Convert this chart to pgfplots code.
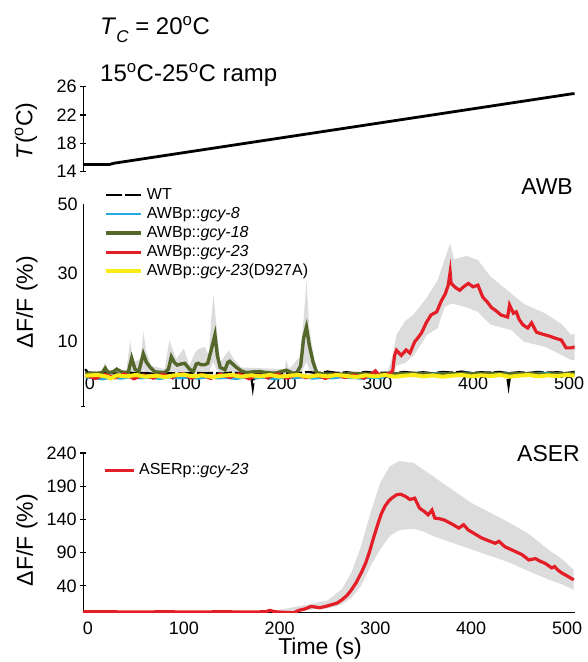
\documentclass[border=0pt]{standalone}
\usepackage{pgfplots}
\pgfplotsset{compat=1.18}
\usepackage{fontspec}
\setmainfont{Liberation Sans}
\definecolor{cred}{RGB}{228,30,38}
\definecolor{cgreen}{RGB}{84,104,44}
\definecolor{cblue}{RGB}{38,169,224}
\definecolor{cyellow}{RGB}{250,235,20}
\definecolor{cband}{RGB}{220,220,220}
\pgfplotsset{
  every non boxed x axis/.append style={x axis line style={-}},
  every non boxed y axis/.append style={y axis line style={-}},
  base/.style={
    scale only axis, width=491.5pt, xmin=-5, xmax=508,
    anchor=south west,
    /pgf/number format/assume math mode=true,
    ticklabel style={font=\fontsize{18}{20}\selectfont},
    axis line style={-, line width=1.2pt},
    every tick/.style={black, line width=1.2pt},
    tick align=outside,
    legend image code/.code={\draw[##1] (0pt,0pt) -- (35pt,0pt);},
  },
  noarrows/.style={
    every outer x axis line/.append style={-},
    every outer y axis line/.append style={-},
    every inner x axis line/.append style={-},
    every inner y axis line/.append style={-},
  },
}
\begin{document}
\begin{tikzpicture}
\path[use as bounding box] (0,0) rectangle (587pt,662pt);
% ---------- top: temperature ----------
\begin{axis}[base, at={(83.2pt,490.4pt)}, height=85pt,
  ymin=14, ymax=26, ytick={14,18,22,26},
  axis x line=none, axis y line=left,
  major tick length=6pt, xtick=\empty, noarrows]
\addplot[black, line width=2.8pt] coordinates {(-4,15) (22,15) (28,15.2) (506,25) (508,25)};
\end{axis}
% ---------- middle: AWB ----------
\begin{axis}[base, at={(83.2pt,255.1pt)}, height=202.4pt,
  ymin=-9, ymax=50, ytick={10,30,50},
  axis x line=bottom, axis y line=left,
  x axis line style={draw=none}, xtick style={draw=none},
  major tick length=0pt,
  extra y ticks={-9}, extra y tick labels={}, extra y tick style={major tick length=4pt},
  xtick={0,100,200,300,400,500},
  xticklabel style={anchor=center, yshift=24pt, xshift=2pt},
  yticklabel style={xshift=-2pt},
  legend style={draw=none, fill=none, at={(rel axis cs:0,1)}, anchor=north west,
    xshift=20.5pt, yshift=18.5pt, inner sep=0pt, row sep=1pt,
    font=\fontsize{16}{18}\selectfont,
    nodes={inner sep=1pt, text height=12pt, text depth=4pt},
    column sep=3pt},
  legend cell align=left, noarrows]
% bands
\addplot[fill=cband, draw=none, forget plot] coordinates {
(-3,1.5)(15,1.5)(18,4)(21,1.5)(40,1.5)(44,10.5)(47,4)(55,5)(57.7,13)(61,7)(66,3)(80,2)(85,10.5)(88,8)(92,5)(100,8)(106,3)(112,7)(115,7.8)(122,8.5)(126,6)(129,18)(131,23.6)(134,15)(138,4)(147,7.5)(152,5)(160,2.5)(205,2)(207,4.7)(210,2)(222,6)(226,20)(228,28)(231,14)(236,5)(240,1.5)
(240,0)(236,0.5)(231,2)(228,4)(226,3)(222,0.5)(210,0)(207,0)(205,0)(160,0)(152,1)(147,1)(138,0.5)(134,2)(131,4)(129,3)(126,1)(122,1)(115,1)(112,1)(106,0)(100,1)(92,1)(88,1.5)(85,1.5)(80,0)(66,0)(61,1)(57.7,2)(55,0.5)(47,0.5)(44,1)(40,0)(21,0)(18,0.5)(15,0)(-3,0)} -- cycle;
\addplot[fill=cband, draw=none, forget plot] coordinates {
(313,1.5)(318,6)(322,12)(331,16)(340,18)(354,23)(365,28)(372,33.8)(378,38.7)(382,34)(395,35)(407,33.8)(420,29)(442,24)(455,21)(477,18.3)(495,15)(504,12)(509,12.5)
(509,4.5)(504,4.7)(495,6)(477,8.5)(455,10)(442,13.4)(420,15)(407,18.7)(395,20)(382,21)(378,21)(372,20)(365,14)(354,12)(340,6)(331,3.8)(322,3)(318,0)(313,-0.5)} -- cycle;
% WT
\addplot[black, line width=2.2pt, dash pattern=on 16pt off 3pt] coordinates {
(-3,2)(0,1)(10,0.8)(20,1.0)(30,0.7)(40,1.1)(50,0.8)(60,0.9)(70,0.6)(80,1.0)(90,0.8)(100,0.7)(110,1.0)(120,0.8)(130,0.9)(140,0.7)(150,1.0)(160,0.8)(170,0.6)(172,-3.5)(174,0.6)(180,0.9)(190,0.8)(200,1.0)(210,0.7)(220,0.9)(230,1.2)(240,0.8)(250,1.3)(260,0.9)(270,1.1)(280,0.8)(290,1.2)(300,0.9)(310,1.0)(320,0.8)(330,1.2)(340,0.9)(350,1.1)(360,0.8)(370,1.2)(380,1.0)(390,1.3)(400,0.9)(410,1.1)(420,1.0)(430,1.2)(437,0.9)(439,-3)(441,0.9)(450,1.1)(460,0.9)(470,1.2)(480,1.0)(490,1.1)(500,0.9)(508,1.2)};
\addlegendentry{WT}
% gcy-8
\addplot[cblue, line width=2.6pt] coordinates {
(-3,-0.3)(8,-0.6)(15,-0.9)(25,-0.4)(35,-0.7)(45,-0.2)(55,-0.6)(65,-0.4)(75,-0.8)(85,-0.3)(95,-0.6)(105,-0.4)(115,-0.7)(125,-0.3)(135,-0.6)(145,-0.5)(155,-0.8)(165,-0.3)(175,-0.6)(185,-0.4)(195,-0.9)(205,-0.4)(215,-0.6)(225,-0.3)(235,-0.7)(245,-0.4)(255,-0.6)(265,-0.3)(275,-0.5)(285,-0.7)(295,-0.4)(305,-0.6)(315,0.6)(325,0.8)(335,0.5)(345,0.9)(355,0.6)(365,0.8)(375,0.5)(385,0.7)(395,0.9)(405,0.6)(415,0.8)(425,0.5)(435,0.9)(445,0.6)(455,0.8)(465,0.7)(475,0.9)(485,0.6)(495,0.8)(508,0.7)};
\addlegendentry{AWBp::\textit{gcy-8}}
% gcy-18
\addplot[cgreen, line width=3.4pt] coordinates {
(-3,0.8)(10,0.8)(15,1)(18,2.3)(21,1)(26,1.2)(30,2)(35,1.2)(42,1)(45.6,5.2)(49,2)(53,1.2)(57.7,6.5)(61,4)(65,2.5)(70,1.2)(80,1)(84,2)(87,5.6)(90,4)(93,3.2)(97,3.5)(101,3.7)(106,2)(110,1.3)(113,3.5)(115,3.7)(118,3.3)(122,3.3)(125,3.7)(129,8)(132.5,12)(135,6)(138,2.5)(143,1.8)(146,4)(148,4.3)(151,3.5)(155,2.5)(160,1.5)(165,1)(172,1.2)(179,1.3)(186,1)(195,0.8)(202,1.3)(207,1.7)(211,1.2)(214,0.8)(218,1)(222,3)(225,11)(228,14.3)(231,9)(235,4)(238.7,1)(245,0.6)(260,0.5)(280,0.7)(300,0.5)(320,0.6)(340,0.8)(360,0.5)(380,0.7)(400,0.6)(420,0.8)(440,0.6)(460,0.7)(480,0.5)(500,0.7)(508,0.6)};
\addlegendentry{AWBp::\textit{gcy-18}}
% gcy-23
\addplot[cred, line width=3.2pt] coordinates {
(-3,0.2)(8,-0.7)(18,0.4)(28,-0.5)(38,0.6)(48,-0.8)(58,0.3)(68,-0.6)(78,0.5)(88,-0.4)(98,0.7)(108,-0.6)(118,0.4)(128,-0.7)(138,0.5)(148,-0.4)(158,0.6)(168,-0.8)(178,0.3)(188,-0.5)(198,0.6)(208,-0.6)(218,0.4)(228,-0.5)(238,0.3)(248,-0.7)(258,0.5)(268,-0.4)(278,0.3)(288,-0.6)(296,0.5)(300,1.5)(304,0.2)(310,0.3)(315,0.8)(318,1.5)(320,6)(322,7.5)(327,6)(332,7.6)(336,6.7)(341,10)(344,11)(348,12.5)(353,15.5)(358,17.8)(364,18.7)(369,22)(373,24)(376,26.5)(378,30.3)(379,27)(384,25.7)(388,25)(392,26)(397,27)(402,26)(407,26.5)(412,23)(417,21.5)(421,20)(426,19)(431,17.8)(438,17.2)(440,20.7)(444,18.3)(447,18.7)(450,16.5)(454,14.9)(459,14)(463,15.5)(468,12.8)(472,12.4)(477,12)(482,11.6)(488,11)(494,10.5)(499,8.2)(504,8.2)(509,8.5)};
\addlegendentry{AWBp::\textit{gcy-23}}
% D927A
\addplot[cyellow, line width=4pt] coordinates {
(-3,0.1)(10,0.3)(20,-0.2)(24,-0.7)(30,0.2)(40,-0.1)(50,0.3)(60,-0.2)(70,0.1)(80,-0.3)(90,0.2)(100,0.4)(110,-0.1)(120,0.2)(130,-0.3)(140,0.1)(150,0.3)(160,-0.2)(170,0.2)(180,-0.1)(190,0.3)(200,-0.2)(210,0.1)(220,0.3)(230,-0.2)(240,0.2)(250,-0.1)(260,0.3)(270,0.0)(280,-0.3)(290,0.2)(300,-0.1)(310,0.3)(320,-0.2)(330,0.1)(340,0.3)(350,-0.1)(360,0.2)(370,-0.2)(380,0.1)(390,0.3)(400,-0.1)(410,0.2)(420,0.0)(430,0.3)(440,-0.2)(450,0.1)(460,0.3)(470,-0.1)(480,0.2)(490,0.0)(500,0.3)(508,0.1)};
\addlegendentry{AWBp::\textit{gcy-23}(D927A)}
\end{axis}
% ---------- bottom: ASER ----------
\begin{axis}[base, at={(83.2pt,49.6pt)}, height=159.4pt,
  ymin=0, ymax=240, ytick={40,90,140,190,240},
  axis x line=bottom, axis y line=left,
  major tick length=6pt, xtick style={draw=none},
  xtick={0,100,200,300,400,500},
  xticklabel style={yshift=-3pt},
  legend image code/.code={\draw[#1] (0pt,0pt) -- (29pt,0pt);},
  legend style={draw=none, fill=none, at={(rel axis cs:0,1)}, anchor=north west,
    xshift=19.5pt, yshift=-8pt, inner sep=0pt,
    font=\fontsize{16}{18}\selectfont,
    nodes={inner sep=1pt, text height=12pt, text depth=4pt},
    column sep=3pt},
  legend cell align=left, noarrows]
\addplot[fill=cband, draw=none, forget plot] coordinates {
(200,4)(230,12)(250,18)(265,35)(275,60)(285,100)(295,150)(305,195)(315,220)(325,228)(340,225)(350,215)(360,205)(380,185)(400,165)(420,150)(440,135)(460,118)(480,95)(495,80)(507,64)
(507,34)(495,42)(480,50)(460,62)(440,75)(420,85)(400,95)(380,105)(360,115)(350,122)(340,126)(325,124)(315,115)(305,95)(295,70)(285,40)(275,22)(265,12)(250,6)(230,4)(200,0)} -- cycle;
\addplot[cred, line width=3.2pt] coordinates {
(-5,1)(20,1)(50,0.5)(80,1)(110,0.5)(140,1)(170,0.5)(185,1)(190,3)(195,1)(205,0)(215,-0.5)(220,3)(226,5)(233,9)(242,7)(248,9)(254,11.5)(260,14)(265,19)(270,25)(275,34)(280,45)(286,62)(290,75)(294,92)(298,112)(303,135)(306,148)(310,160)(314,168)(317,172)(322,177)(326,178)(331,175)(336,170)(341,172)(346,157)(351,152)(355,147)(359,154)(362,142)(367,141)(372,139)(380,133)(387,127)(392,132)(397,124)(404,118)(411,112)(418,108)(425,104)(429,107)(435,99)(444,93)(453,87)(460,79)(467,81)(472,77)(477,74)(484,67)(487,69)(491,63)(495,59)(500,55)(507,49)};
\addlegendentry{ASERp::\textit{gcy-23}}
\end{axis}
% ---------- texts ----------
\node[anchor=base west, font=\fontsize{24}{28}\selectfont, inner sep=0pt] at (100pt,627pt)
  {\textit{T}\raisebox{-8pt}{\fontsize{17}{17}\selectfont\textit{C}} = 20\textsuperscript{o}C};
\node[anchor=base west, font=\fontsize{24}{28}\selectfont, inner sep=0pt] at (100pt,580pt)
  {15\textsuperscript{o}C-25\textsuperscript{o}C ramp};
\node[anchor=base east, font=\fontsize{23}{26}\selectfont, inner sep=0pt] at (573pt,467.7pt) {AWB};
\node[anchor=base east, font=\fontsize{23}{26}\selectfont, inner sep=0pt] at (580pt,200.3pt) {ASER};
\node[anchor=base, font=\fontsize{23}{26}\selectfont, inner sep=0pt] at (320pt,7pt) {Time (s)};
\node[rotate=90, font=\fontsize{23}{26}\selectfont, inner sep=0pt] at (26pt,531pt) {\textit{T}(\textsuperscript{o}C)};
\node[rotate=90, font=\fontsize{23}{26}\selectfont, inner sep=0pt] at (27pt,360pt) {ΔF/F (\%)};
\node[rotate=90, font=\fontsize{23}{26}\selectfont, inner sep=0pt] at (27pt,122pt) {ΔF/F (\%)};
\end{tikzpicture}
\end{document}
